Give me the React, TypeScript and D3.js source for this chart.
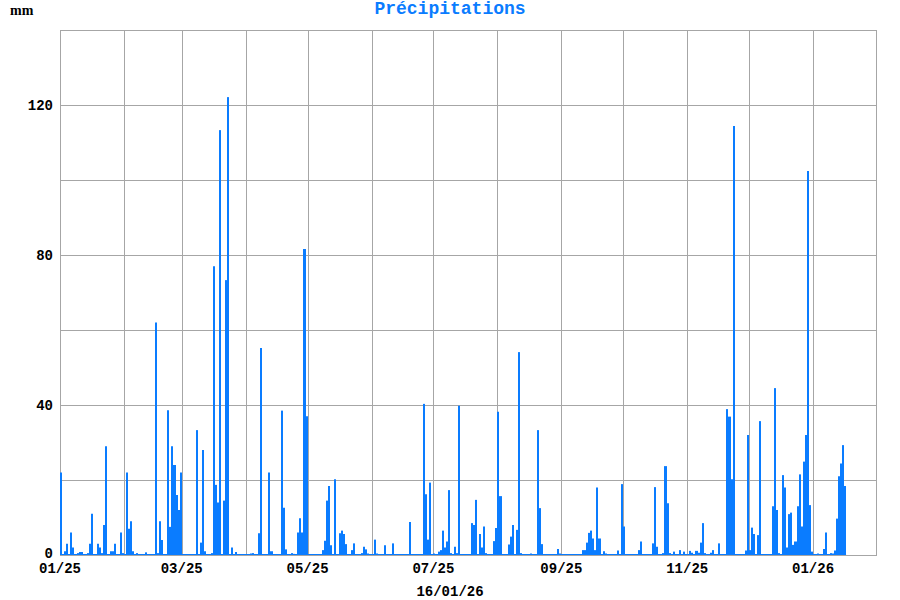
import React from "react";
import * as d3 from "d3";

const rainDates: string[] = [
  "2025-01-01","2025-01-03","2025-01-04","2025-01-06","2025-01-07","2025-01-09","2025-01-10","2025-01-11","2025-01-14","2025-01-15",
  "2025-01-16","2025-01-19","2025-01-20","2025-01-21","2025-01-22","2025-01-23","2025-01-25","2025-01-26","2025-01-27","2025-01-30",
  "2025-01-31","2025-02-02","2025-02-03","2025-02-04","2025-02-05","2025-02-07","2025-02-11","2025-02-16","2025-02-17","2025-02-18",
  "2025-02-19","2025-02-22","2025-02-23","2025-02-24","2025-02-25","2025-02-26","2025-02-27","2025-02-28","2025-03-08","2025-03-10",
  "2025-03-11","2025-03-12","2025-03-15","2025-03-16","2025-03-17","2025-03-18","2025-03-19","2025-03-21","2025-03-22","2025-03-23",
  "2025-03-25","2025-03-27","2025-04-03","2025-04-04","2025-04-07","2025-04-08","2025-04-12","2025-04-13","2025-04-18","2025-04-19",
  "2025-04-20","2025-04-23","2025-04-24","2025-04-26","2025-04-27","2025-04-28","2025-04-29","2025-04-30","2025-05-08","2025-05-09",
  "2025-05-10","2025-05-11","2025-05-12","2025-05-14","2025-05-16","2025-05-17","2025-05-18","2025-05-19","2025-05-22","2025-05-23",
  "2025-05-27","2025-05-28","2025-05-29","2025-05-30","2025-06-02","2025-06-03","2025-06-07","2025-06-11","2025-06-19","2025-06-26",
  "2025-06-27","2025-06-28","2025-06-29","2025-07-01","2025-07-03","2025-07-04","2025-07-05","2025-07-06","2025-07-07","2025-07-08",
  "2025-07-09","2025-07-11","2025-07-12","2025-07-13","2025-07-19","2025-07-20","2025-07-21","2025-07-23","2025-07-24","2025-07-25",
  "2025-07-26","2025-07-30","2025-07-31","2025-08-01","2025-08-02","2025-08-06","2025-08-07","2025-08-08","2025-08-10","2025-08-11",
  "2025-08-12","2025-08-17","2025-08-20","2025-08-21","2025-08-22","2025-08-30","2025-08-31","2025-09-11","2025-09-12","2025-09-13",
  "2025-09-14","2025-09-15","2025-09-16","2025-09-17","2025-09-18","2025-09-19","2025-09-21","2025-09-22","2025-09-28","2025-09-30",
  "2025-10-01","2025-10-08","2025-10-09","2025-10-15","2025-10-16","2025-10-17","2025-10-20","2025-10-21","2025-10-22","2025-10-23",
  "2025-10-25","2025-10-28","2025-10-30","2025-11-02","2025-11-03","2025-11-05","2025-11-06","2025-11-07","2025-11-08","2025-11-09",
  "2025-11-12","2025-11-13","2025-11-16","2025-11-20","2025-11-21","2025-11-22","2025-11-23","2025-11-29","2025-11-30","2025-12-01",
  "2025-12-02","2025-12-03","2025-12-05","2025-12-06","2025-12-12","2025-12-13","2025-12-14","2025-12-15","2025-12-17","2025-12-18",
  "2025-12-19","2025-12-20","2025-12-21","2025-12-22","2025-12-23","2025-12-24","2025-12-25","2025-12-26","2025-12-27","2025-12-28",
  "2025-12-29","2025-12-30","2025-12-31","2026-01-03","2026-01-06","2026-01-07","2026-01-09","2026-01-10","2026-01-11","2026-01-12",
  "2026-01-13","2026-01-14","2026-01-15","2026-01-16"
];

const rainValues: number[] = [
  22,1,3,6,2,0.5,0.8,0.8,0.5,3,
  11,3,2,0.5,8,29,1,1,3,6,
  0.5,22,7,9,1,0.5,0.7,62,0.5,9,
  4,38.6,7.5,29,24,16,12,22,33.3,3.3,
  28,1,0.5,77,18.7,14,113.3,14.5,73.3,122.1,
  2,0.8,0.4,0.5,5.8,55.2,22,1,38.5,12.6,
  1.5,0.5,0.3,6,9.8,6,81.6,37,1.3,3.8,
  14.5,18.4,2.6,20.2,5.8,6.5,5.6,2.9,1.3,3.1,
  0.5,2.2,1.5,0.4,4.1,0.4,2.6,3.1,8.8,40.3,
  16.2,4.1,19.3,0.4,0.9,1.3,6.5,2,3.6,17.3,
  0.5,2.2,0.5,39.8,8.5,8,14.7,5.6,2,7.6,
  0.5,3.7,7.2,38.2,15.7,2.8,4.9,8,6.7,54.1,
  0.5,0.4,33.3,12.5,2.9,1.6,0.4,1.3,1.3,3.3,
  5.9,6.5,4.4,1.3,18,4.4,1,0.4,1.2,18.9,
  7.6,1.3,3.6,3.1,18.1,2.2,0.5,23.7,13.8,0.5,
  0.9,1.3,0.9,1.1,0.6,1.1,0.6,3.3,8.5,0.5,
  0.6,1.3,3.1,38.9,36.9,20.2,114.4,1.2,32,1.3,
  7.3,5.6,5.3,35.7,13,44.5,12,0.5,21.3,18,
  2,10.9,11.3,2.7,3.6,13,21.5,7.6,24.9,32,
  102.4,13.3,0.9,0.4,1.6,6,0.5,0.4,1.2,9.7,
  21,24.4,29.3,18.4
];

const seriesStart = "2025-01-01";
const seriesEnd = "2026-01-16";
const domainStart = "2025-01-01";
const domainEnd = "2026-02-01";
const yTicks: number[] = [0, 40, 80, 120];
const yGrid: number[] = [20, 40, 60, 80, 100, 120];
const xTickLabelMonths: string[] = ["2025-01-01","2025-03-01","2025-05-01","2025-07-01","2025-09-01","2025-11-01","2026-01-01"];
const chartTitle = "Précipitations";
const unitLabel = "mm";
const dateLabel = "16/01/26";

const W = 900, H = 600;
const M = { left: 60, right: 23, top: 30, bottom: 45 };
const BLUE = "#0a7cff";
const GRID = "#a6a6a6";
const MONO = "'Liberation Mono', 'Courier New', monospace";

const parse = d3.utcParse("%Y-%m-%d");

export default function App() {
  const x = d3.scaleUtc()
    .domain([parse(domainStart)!, parse(domainEnd)!])
    .range([M.left, W - M.right]);
  const y = d3.scaleLinear().domain([0, 140]).range([H - M.bottom, M.top]);

  const months = d3.utcMonth.range(parse(domainStart)!, parse(domainEnd)!);
  const fmt = d3.utcFormat("%m/%y");

  const bars = rainDates.map((d, i) => {
    const dt = parse(d)!;
    const x0 = Math.round(x(dt));
    const x1 = Math.round(x(d3.utcDay.offset(dt, 1)));
    return { x0, w: Math.max(2, x1 - x0), v: rainValues[i] };
  });

  const baseStart = x(parse(seriesStart)!);
  const baseEnd = x(d3.utcDay.offset(parse(seriesEnd)!, 1));

  return (
    <svg width={W} height={H} style={{ position: "fixed", left: 0, top: 0, background: "#fff" }}>
      <rect x={0} y={0} width={W} height={H} fill="#fff" />
      {/* horizontal grid */}
      {yGrid.map((g) => (
        <line key={"h" + g} x1={M.left} x2={W - M.right} y1={Math.round(y(g)) + 0.5} y2={Math.round(y(g)) + 0.5} stroke={GRID} strokeWidth={1} />
      ))}
      {/* vertical monthly grid */}
      {months.map((m) => (
        <line key={"v" + m.toISOString()} x1={Math.round(x(m)) + 0.5} x2={Math.round(x(m)) + 0.5} y1={M.top} y2={H - M.bottom} stroke={GRID} strokeWidth={1} />
      ))}
      {/* frame */}
      <rect x={M.left + 0.5} y={M.top + 0.5} width={W - M.left - M.right - 1} height={H - M.top - M.bottom} fill="none" stroke={GRID} strokeWidth={1} />
      {/* bars */}
      {bars.map((b, i) => (
        <rect key={i} x={b.x0} y={y(b.v)} width={b.w} height={y(0) - y(b.v)} fill={BLUE} />
      ))}
      <line x1={baseStart} x2={baseEnd} y1={y(0) - 0.5} y2={y(0) - 0.5} stroke={BLUE} strokeWidth={1} />
      {/* y labels */}
      {yTicks.map((t) => (
        <text key={"yt" + t} x={53} y={y(t) + (t === 0 ? 3 : 5)} textAnchor="end" fontFamily={MONO} fontWeight="bold" fontSize={14} fill="#000">{t}</text>
      ))}
      {/* x labels */}
      {xTickLabelMonths.map((m) => (
        <text key={"xt" + m} x={x(parse(m)!)} y={573} textAnchor="middle" fontFamily={MONO} fontWeight="bold" fontSize={14} fill="#000">{fmt(parse(m)!)}</text>
      ))}
      <text x={450} y={596} textAnchor="middle" fontFamily={MONO} fontWeight="bold" fontSize={14} fill="#000">{dateLabel}</text>
      <text x={10} y={15} fontFamily="'Liberation Serif', 'Times New Roman', serif" fontWeight="bold" fontSize={14} fill="#000">{unitLabel}</text>
      <text x={450} y={14} textAnchor="middle" fontFamily={MONO} fontWeight="bold" fontSize={18} fill={BLUE}>{chartTitle}</text>
    </svg>
  );
}
